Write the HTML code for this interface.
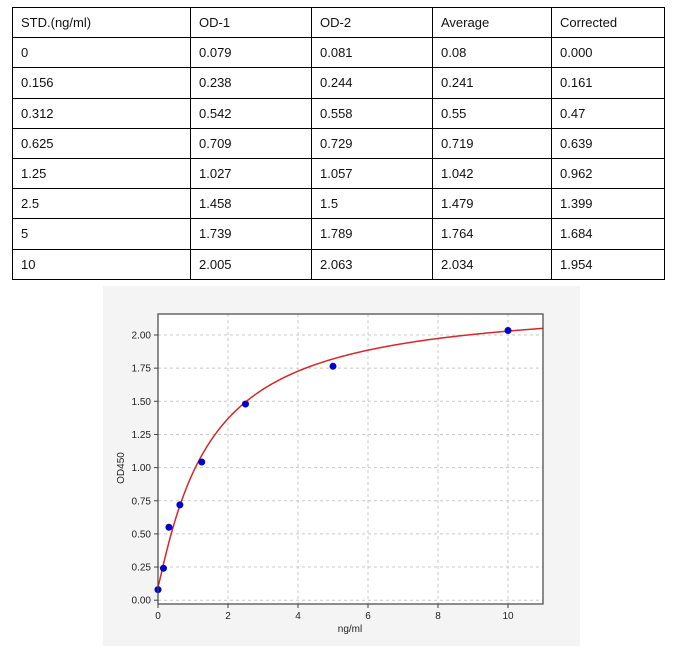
<!DOCTYPE html>
<html><head><meta charset="utf-8"><style>
body{margin:0;width:697px;height:651px;background:#fff;font-family:"Liberation Sans",sans-serif;position:relative;overflow:hidden}
table{position:absolute;left:12px;top:7px;border-collapse:collapse;font-size:13px;color:#111}
td{border:1.5px solid #000;height:30.2px;padding:0 0 0 8px;box-sizing:border-box}
</style></head><body>
<table>
<tr><td style="width:178px">STD.(ng/ml)</td><td style="width:121px">OD-1</td><td style="width:121px">OD-2</td><td style="width:119px">Average</td><td style="width:113px">Corrected</td></tr>
<tr><td>0</td><td>0.079</td><td>0.081</td><td>0.08</td><td>0.000</td></tr>
<tr><td>0.156</td><td>0.238</td><td>0.244</td><td>0.241</td><td>0.161</td></tr>
<tr><td>0.312</td><td>0.542</td><td>0.558</td><td>0.55</td><td>0.47</td></tr>
<tr><td>0.625</td><td>0.709</td><td>0.729</td><td>0.719</td><td>0.639</td></tr>
<tr><td>1.25</td><td>1.027</td><td>1.057</td><td>1.042</td><td>0.962</td></tr>
<tr><td>2.5</td><td>1.458</td><td>1.5</td><td>1.479</td><td>1.399</td></tr>
<tr><td>5</td><td>1.739</td><td>1.789</td><td>1.764</td><td>1.684</td></tr>
<tr><td>10</td><td>2.005</td><td>2.063</td><td>2.034</td><td>1.954</td></tr>
</table>
<svg id="s" style="position:absolute;left:0;top:0" width="697" height="651" font-family="Liberation Sans, DejaVu Sans, sans-serif">
<rect x="103" y="286" width="477" height="360" fill="#f4f4f4"/>
<rect x="158" y="314" width="385" height="290" fill="#fff"/>
<g id="grid" stroke="#c8c8c8" stroke-dasharray="3,3" stroke-width="1"></g>
<path id="curve" fill="none" stroke="#d62728" stroke-width="1.5"/>
<g id="pts" fill="#0000cc"></g>
<rect x="158" y="314" width="385" height="290" fill="none" stroke="#444" stroke-width="1.2"/>
<g id="ticks" font-size="10" fill="#222"></g>
<text x="350" y="632" font-size="10" text-anchor="middle" fill="#222">ng/ml</text>
<text transform="translate(124,468) rotate(-90)" font-size="10" text-anchor="middle" fill="#222">OD450</text>
</svg>
<script>
var X=function(x){return 158+35*x},Y=function(y){return 600.2-132.6*y};
var g='',t='';
for(var i=0;i<=10;i+=2){g+='<line x1="'+X(i)+'" y1="314" x2="'+X(i)+'" y2="604"/>';t+='<line x1="'+X(i)+'" y1="604" x2="'+X(i)+'" y2="608" stroke="#444"/><text x="'+X(i)+'" y="619" text-anchor="middle">'+i+'</text>';}
for(var j=0;j<=8;j++){var v=j*0.25;g+='<line x1="158" y1="'+Y(v)+'" x2="543" y2="'+Y(v)+'"/>';t+='<line x1="154" y1="'+Y(v)+'" x2="158" y2="'+Y(v)+'" stroke="#444"/><text x="151" y="'+(Y(v)+3.5)+'" text-anchor="end">'+v.toFixed(2)+'</text>';}
document.getElementById('grid').innerHTML=g;document.getElementById('ticks').innerHTML=t;
var d='';for(var k=0;k<=440;k++){var x=k*0.025;var y=2.26-2.16/(1+Math.pow(x/1.45,1.1));d+=(k?'L':'M')+X(x).toFixed(2)+','+Y(y).toFixed(2);}
document.getElementById('curve').setAttribute('d',d);
var P=[[0,0.08],[0.156,0.241],[0.312,0.55],[0.625,0.719],[1.25,1.042],[2.5,1.479],[5,1.764],[10,2.034]],p='';
P.forEach(function(a){p+='<circle cx="'+X(a[0])+'" cy="'+Y(a[1])+'" r="3.5"/>';});
document.getElementById('pts').innerHTML=p;
</script>
</body></html>
